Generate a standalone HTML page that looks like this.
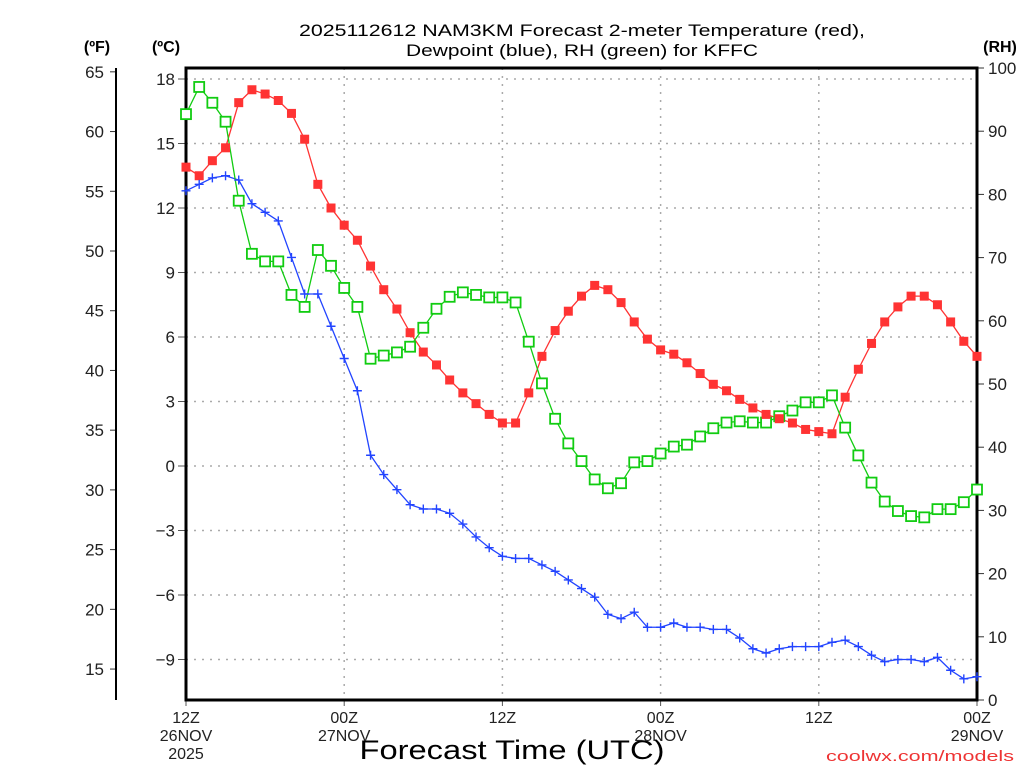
<!DOCTYPE html>
<html><head><meta charset="utf-8"><style>
html,body{margin:0;padding:0;background:#fff;}
svg{display:block;font-family:"Liberation Sans","DejaVu Sans",sans-serif;}
</style></head><body>
<svg id="chart" width="1024" height="768" viewBox="0 0 1024 768">
<text x="582" y="36" font-size="17" text-anchor="middle" textLength="566" lengthAdjust="spacingAndGlyphs">2025112612 NAM3KM Forecast 2-meter Temperature (red),</text>
<text x="582" y="56" font-size="17" text-anchor="middle" textLength="352" lengthAdjust="spacingAndGlyphs">Dewpoint (blue), RH (green) for KFFC</text>
<text x="97" y="52" font-size="16" font-weight="bold" text-anchor="middle">(ºF)</text>
<text x="166" y="52" font-size="16" font-weight="bold" text-anchor="middle">(ºC)</text>
<text x="1000" y="52" font-size="16" font-weight="bold" text-anchor="middle">(RH)</text>
<text x="512" y="759" font-size="27" text-anchor="middle" textLength="305" lengthAdjust="spacingAndGlyphs">Forecast Time (UTC)</text>
<text x="1014" y="761" font-size="15" fill="#e33" text-anchor="end" textLength="188" lengthAdjust="spacingAndGlyphs">coolwx.com/models</text>
<g id="grid"></g><g id="axes"></g><g id="series"></g>
</svg>
<script>
const hours = [...Array(61).keys()];
const tempC = [13.9,13.5,14.2,14.8,16.9,17.5,17.3,17.0,16.4,15.2,13.1,12.0,11.2,10.5,9.3,8.2,7.3,6.2,5.3,4.7,4.0,3.4,2.9,2.4,2.0,2.0,3.4,5.1,6.3,7.2,7.9,8.4,8.2,7.6,6.7,5.9,5.4,5.2,4.8,4.3,3.8,3.5,3.1,2.7,2.4,2.2,2.0,1.7,1.6,1.5,3.2,4.5,5.7,6.7,7.4,7.9,7.9,7.5,6.7,5.8,5.1];
const dewC = [12.8,13.1,13.4,13.5,13.3,12.2,11.8,11.4,9.7,8.0,8.0,6.5,5.0,3.5,0.5,-0.4,-1.1,-1.8,-2.0,-2.0,-2.2,-2.7,-3.3,-3.8,-4.2,-4.3,-4.3,-4.6,-4.9,-5.3,-5.7,-6.1,-6.9,-7.1,-6.8,-7.5,-7.5,-7.3,-7.5,-7.5,-7.6,-7.6,-8.0,-8.5,-8.7,-8.5,-8.4,-8.4,-8.4,-8.2,-8.1,-8.4,-8.8,-9.1,-9.0,-9.0,-9.1,-8.9,-9.5,-9.9,-9.8];
const rh = [92.7,97.0,94.5,91.5,79.0,70.6,69.4,69.4,64.1,62.2,71.2,68.7,65.2,62.2,54.0,54.5,55.0,55.9,58.9,61.9,63.8,64.5,64.1,63.7,63.7,62.9,56.7,50.1,44.5,40.6,37.8,34.9,33.5,34.3,37.6,37.8,39.0,40.1,40.4,41.7,43.0,43.9,44.1,43.9,43.9,44.9,45.8,47.1,47.1,48.2,43.1,38.7,34.4,31.4,29.9,29.1,28.9,30.2,30.2,31.3,33.3];
const cTicks = [18,15,12,9,6,3,0,-3,-6,-9];
const fTicks = [65,60,55,50,45,40,35,30,25,20,15];
const rhTicks = [100,90,80,70,60,50,40,30,20,10,0];
const xTickHours = [0,12,24,36,48,60];
const xTickLabels = [["12Z","26NOV","2025"],["00Z","27NOV"],["12Z"],["00Z","28NOV"],["12Z"],["00Z","29NOV"]];

const L=186,R=977,T=68,B=700;
const xS=h=>L+(R-L)*h/60;
const yC=c=>466-21.5*c;
const yF=f=>yC((f-32)*5/9);
const yRH=r=>B-(B-T)*r/100;
const NS="http://www.w3.org/2000/svg";
function mk(tag,attrs,parent){const e=document.createElementNS(NS,tag);for(const k in attrs)e.setAttribute(k,attrs[k]);parent.appendChild(e);return e;}
const grid=document.getElementById('grid'),axes=document.getElementById('axes'),ser=document.getElementById('series');

cTicks.forEach(c=>{
  const y=yC(c);
  const g=mk('line',{x1:L,x2:R,y1:y,y2:y,stroke:'#aaa','stroke-dasharray':'2 6','stroke-width':1.5},grid);
  
  
  const t=mk('line',{x1:L-8,x2:L,y1:y,y2:y,stroke:'#555'},axes);
  
  
  const lb=mk('text',{x:175,y:y+6,'font-size':17,'text-anchor':'end',fill:'#222'},axes);
  lb.textContent=(c<0?'\u2212'+(-c):c);
  
  
});
xTickHours.forEach((h,i)=>{
  const x=xS(h);
  if(h>0&&h<60){const g=mk('line',{x1:x,x2:x,y1:T,y2:B,stroke:'#aaa','stroke-dasharray':'2 6','stroke-width':1.5},grid);
  
  }
  const t=mk('line',{x1:x,x2:x,y1:B,y2:B+6,stroke:'#555'},axes);
  
  
  xTickLabels[i].forEach((s,j)=>{
    const lb=mk('text',{x:x,y:723+j*18,'font-size':16,'text-anchor':'middle',fill:'#222'},axes);
    lb.textContent=s;
    
    
  });
});
fTicks.forEach(f=>{
  const y=yF(f);
  const t=mk('line',{x1:110,x2:116,y1:y,y2:y,stroke:'#333'},axes);
  
  
  const lb=mk('text',{x:104,y:y+6,'font-size':17,'text-anchor':'end',fill:'#222'},axes);
  lb.textContent=f;
  
  
});
rhTicks.forEach(r=>{
  const y=yRH(r);
  const t=mk('line',{x1:R,x2:R+7,y1:y,y2:y,stroke:'#333'},axes);
  
  
  const lb=mk('text',{x:988,y:y+6,'font-size':17,'text-anchor':'start',fill:'#222'},axes);
  lb.textContent=r;
  
  
});
const fa=mk('line',{x1:116,x2:116,y1:T,y2:B,stroke:'#000','stroke-width':2},axes);


const box=mk('path',{d:`M${L},${T}H${R}V${B}H${L}Z`,fill:'none',stroke:'#000','stroke-width':3},axes);



function line(vals,yf,color,name){
  const p=mk('polyline',{points:vals.map((v,i)=>xS(hours[i])+','+yf(v)).join(' '),fill:'none',stroke:color,'stroke-width':1.3},ser);
  
  
}
line(tempC,yC,'#f33','temperature');
line(dewC,yC,'#2244ff','dewpoint');
line(rh,yRH,'#11cc11','rh');
rh.forEach((v,i)=>{
  const m=mk('rect',{x:xS(hours[i])-5,y:yRH(v)-5,width:10,height:10,fill:'#fff',stroke:'#11cc11','stroke-width':1.8},ser);
  
  
});
tempC.forEach((v,i)=>{
  const m=mk('rect',{x:xS(hours[i])-4.5,y:yC(v)-4.5,width:9,height:9,fill:'#f33'},ser);
  
  
});
dewC.forEach((v,i)=>{
  const x=xS(hours[i]),y=yC(v);
  const m=mk('path',{d:`M${x-4.5},${y}H${x+4.5}M${x},${y-4.5}V${y+4.5}`,stroke:'#2244ff','stroke-width':1.4},ser);
  
  
});
</script>
</body></html>
